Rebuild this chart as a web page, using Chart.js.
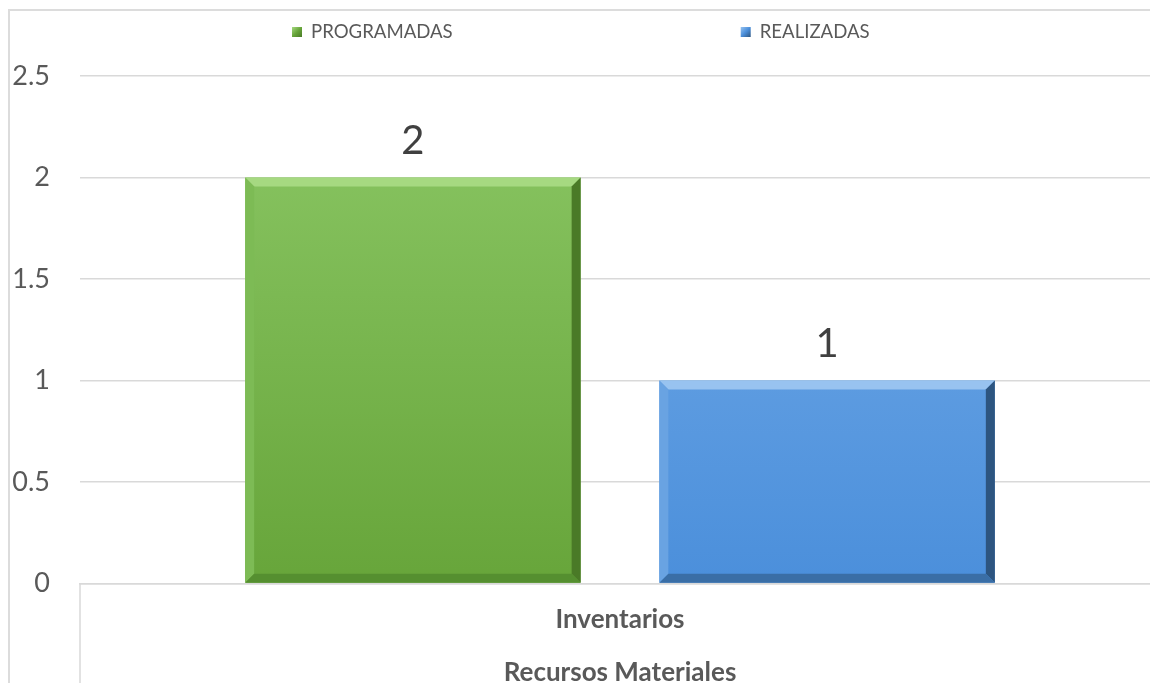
<!DOCTYPE html>
<html>
<head>
<meta charset="utf-8">
<script src="https://cdn.jsdelivr.net/npm/chart.js@4"></script>
<style>
  html, body { margin: 0; padding: 0; background: #fff; overflow: hidden; }
  #frame { position: absolute; left: 8px; top: 9px; width: 1300px; height: 800px; border: 2px solid #dcdcdc; }
  #wrap { position: absolute; left: 0; top: 0; width: 1160px; height: 688px; }
</style>
</head>
<body>
<div id="frame"></div>
<div id="wrap"><canvas id="chart1"></canvas></div>
<script>
// datos de la grafica
const categorias = ['Inventarios']
const area = 'Recursos Materiales'
const series = ['PROGRAMADAS', 'REALIZADAS']
const programadas = [2]
const realizadas = [1]
const yTicks = [0, 0.5, 1, 1.5, 2, 2.5]

const FONT = 'Lato, "Open Sans", sans-serif'
const GRAY = '#595959'

// colores de cada serie: cara, bisel claro, bisel oscuro, borde
const estilos = [
    { top: '#8cc866', bottom: '#67a53a', light: '#a6d981', left: '#7dbb55', dark: '#4a7a27', low: '#558f30' },
    { top: '#77aee9', bottom: '#4b8fdb', light: '#98c3f0', left: '#69a3e2', dark: '#2d5580', low: '#3a6ea6' }
]

function gradiente(ctx, i) {
    const chart = ctx.chart
    const area = chart.chartArea
    if (!area) return estilos[i].top
    const g = chart.ctx.createLinearGradient(0, area.top, 0, area.bottom)
    g.addColorStop(0, estilos[i].top)
    g.addColorStop(1, estilos[i].bottom)
    return g
}

// bisel de las barras y etiquetas de valor
const biselPlugin = {
    id: 'bisel',
    afterDatasetsDraw(chart) {
        const ctx = chart.ctx
        chart.data.datasets.forEach((ds, i) => {
            chart.getDatasetMeta(i).data.forEach((bar, j) => {
                const p = bar.getProps(['x', 'y', 'base', 'width'], true)
                const l = p.x - p.width / 2, r = p.x + p.width / 2, t = p.y, b = p.base
                const s = 9
                const e = estilos[i]
                const poly = (pts, color) => {
                    ctx.beginPath()
                    ctx.moveTo(pts[0][0], pts[0][1])
                    pts.slice(1).forEach(q => ctx.lineTo(q[0], q[1]))
                    ctx.closePath()
                    ctx.fillStyle = color
                    ctx.fill()
                }
                ctx.save()
                poly([[l, t], [r, t], [r - s, t + s], [l + s, t + s]], e.light)
                poly([[l, t], [l + s, t + s], [l + s, b - s], [l, b]], e.left)
                poly([[r, t], [r, b], [r - s, b - s], [r - s, t + s]], e.dark)
                poly([[l, b], [l + s, b - s], [r - s, b - s], [r, b]], e.low)
                ctx.fillStyle = '#404040'
                ctx.font = '40px ' + FONT
                ctx.textAlign = 'center'
                ctx.textBaseline = 'middle'
                ctx.fillText(String(ds.data[j]), p.x, t - 36)
                ctx.restore()
            })
        })
    },
    afterDraw(chart) {
        const ctx = chart.ctx
        const x = chart.scales.x
        // linea separadora del eje de categorias
        ctx.save()
        ctx.strokeStyle = '#d9d9d9'
        ctx.lineWidth = 1.5
        ctx.beginPath()
        ctx.moveTo(x.left, x.top)
        ctx.lineTo(x.left, chart.height)
        ctx.stroke()
        // leyenda
        ctx.font = '18.6px ' + FONT
        ctx.textBaseline = 'middle'
        const gap = 288
        let cx = chart.width / 2 - 288
        const cy = 32
        chart.data.datasets.forEach((d, i) => {
            const w = 10 + 9 + ctx.measureText(d.label).width
            const g = ctx.createLinearGradient(cx, cy - 5, cx + 10, cy + 5)
            g.addColorStop(0, estilos[i].light)
            g.addColorStop(0.5, estilos[i].bottom)
            g.addColorStop(1, estilos[i].dark)
            ctx.fillStyle = g
            ctx.fillRect(cx, cy - 5, 10, 10)
            ctx.fillStyle = GRAY
            ctx.fillText(d.label, cx + 19, cy)
            cx += w + gap
        })
        ctx.restore()
    }
}

new Chart('chart1', {
    type: 'bar',
    data: {
        labels: categorias,
        datasets: [
            { label: series[0], data: programadas, backgroundColor: ctx => gradiente(ctx, 0) },
            { label: series[1], data: realizadas, backgroundColor: ctx => gradiente(ctx, 1) }
        ]
    },
    options: {
        responsive: true,
        maintainAspectRatio: false,
        animation: false,
        categoryPercentage: 0.767,
        barPercentage: 0.81,
        layout: { padding: { top: 76, right: 0, bottom: 0, left: 0 } },
        plugins: {
            legend: { display: false },
            tooltip: { enabled: false }
        },
        scales: {
            x: {
                grid: { display: false },
                border: { display: true, color: '#d9d9d9', width: 1.5 },
                ticks: { color: GRAY, font: { family: FONT, size: 26, weight: 'bold' }, padding: 12 },
                title: { display: true, text: area, color: GRAY, font: { family: FONT, size: 26, weight: 'bold' }, padding: { top: 10, bottom: 0 } }
            },
            y: {
                min: 0,
                max: 2.5,
                afterFit(scale) { scale.width = 80 },
                afterBuildTicks(scale) { scale.ticks = yTicks.map(v => ({ value: v })) },
                grid: { color: '#d9d9d9', lineWidth: 1.5, drawTicks: false },
                border: { display: false },
                ticks: { color: GRAY, font: { family: FONT, size: 27 }, padding: 30, callback: v => String(v) }
            }
        }
    },
    plugins: [biselPlugin]
})
</script>
</body>
</html>
